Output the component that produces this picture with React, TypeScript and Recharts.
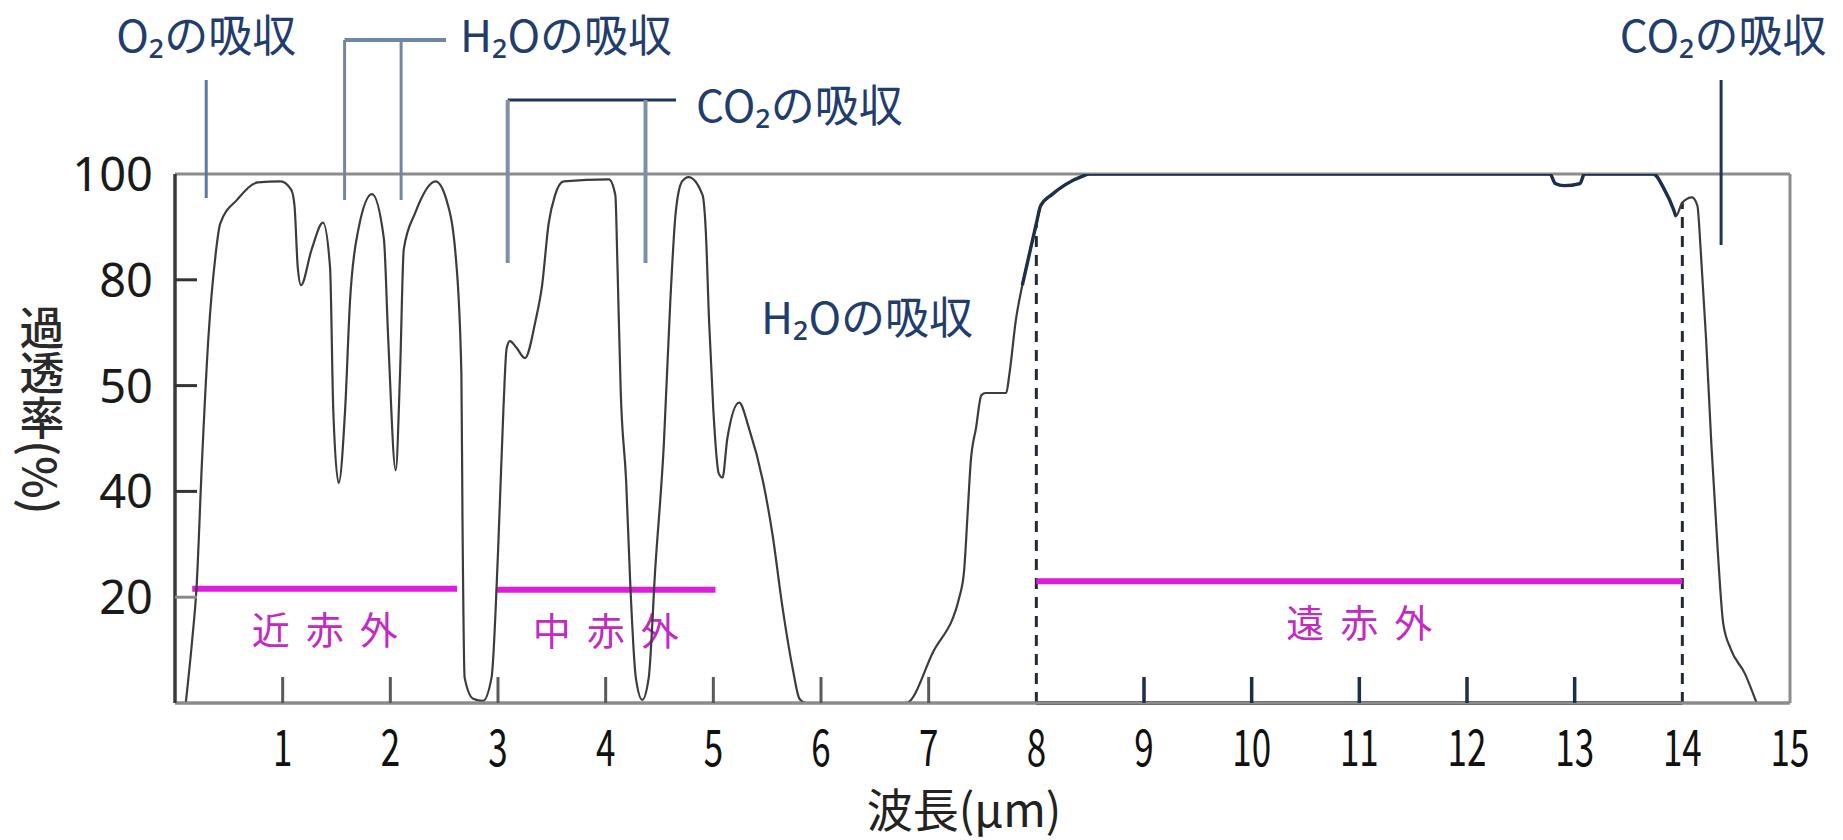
import React from "react";
import { LineChart, Line, XAxis, YAxis, ReferenceLine, ReferenceDot } from "recharts";

// 波長 (μm) と 透過率 (%)
const wavelength = [
  0.1, 0.16, 0.2, 0.25, 0.31, 0.375, 0.42, 0.58, 0.77, 0.98, 1.08, 1.11, 1.14, 1.17, 1.27, 1.375,
  1.44, 1.47, 1.52, 1.58, 1.625, 1.7, 1.83, 1.94, 1.98, 2.05, 2.09, 2.125, 2.23, 2.42, 2.52, 2.61,
  2.66, 2.67, 2.69, 2.77, 2.86, 2.94, 3.0, 3.05, 3.08, 3.11, 3.17, 3.25, 3.35, 3.41, 3.47, 3.53,
  3.61, 4.03, 4.09, 4.11, 4.14, 4.19, 4.23, 4.28, 4.34, 4.4, 4.46, 4.54, 4.6, 4.65, 4.71, 4.77,
  4.9, 4.93, 4.96, 5.0, 5.05, 5.085, 5.13, 5.24, 5.33, 5.46, 5.55, 5.64, 5.74, 5.8, 5.86, 6.79,
  7.04, 7.29, 7.33, 7.36, 7.39, 7.44, 7.49, 7.53, 7.72, 7.75, 7.81, 7.87, 7.93, 8.0, 8.04, 8.15,
  8.27, 8.43, 8.49, 12.77, 12.82, 12.9, 13.05, 13.09, 13.73, 13.83, 13.92, 13.94, 14.0, 14.09,
  14.14, 14.17, 14.22, 14.27, 14.33, 14.38, 14.45, 14.58, 14.69,
];
const transmittance = [
  0, 12, 21.8, 42.7, 63.5, 84.4, 90.6, 95.2, 98.4, 98.6, 97, 94, 82.4, 78.5, 85.8, 90.8,
  82.4, 47.7, 40.8, 47.7, 73.7, 89.2, 96.2, 87.8, 63.5, 42, 53.3, 85.8, 92.6, 98.6, 95.2, 83.8,
  53.3, 35.2, 4.8, 0.8, 0.4, 4.8, 28.4, 47.7, 60.5, 62.6, 60.8, 57.8, 68.6, 78.5, 90.6, 96,
  98.6, 99, 96, 82.4, 49.4, 41, 21.8, 4.8, 0.6, 4.8, 25.2, 44.4, 73.7, 92.6, 98.6, 99.4,
  96, 89.2, 68.6, 47.7, 41.7, 41.3, 45, 48.4, 46, 41, 31.8, 18.4, 6.2, 0.8, 0, 0,
  9.6, 20.4, 25.2, 35.2, 42.7, 46, 49.1, 49.3, 49.3, 53.3, 68.6, 78.5, 84.4, 90.6, 94, 96.2,
  98, 99.6, 100, 100, 98.2, 97.8, 98.2, 100, 100, 97.2, 93.2, 92, 94.6, 95.6,
  94, 85.8, 63.5, 44.4, 28.4, 15, 10.2, 5.6, 0,
];

const yTickValues = [20, 40, 50, 80, 100];
const xTickValues = [1, 2, 3, 4, 5, 6, 7, 8, 9, 10, 11, 12, 13, 14, 15];

const bandNames = ["近赤外", "中赤外", "遠赤外"];
const bandFrom = [0.16, 2.98, 8.0];
const bandTo = [2.62, 5.02, 14.0];
const bandLevel = [21.6, 21.4, 23];

const o2Lines = [0.29];
const h2oLines = [1.575, 2.1];
const co2Lines = [3.09, 4.37];
const co2FarLines = [14.36];
const farIrEdges = [8, 14];

// 縦軸は目盛が等間隔 (0, 20, 40, 50, 80, 100)
const yBreaks = [0, 20, 40, 50, 80, 100];
function toPos(v: number) {
  for (let i = 1; i < yBreaks.length; i++) {
    if (v <= yBreaks[i]) {
      return i - 1 + (v - yBreaks[i - 1]) / (yBreaks[i] - yBreaks[i - 1]);
    }
  }
  return yBreaks.length - 1;
}

function valueAt(x: number) {
  for (let i = 1; i < wavelength.length; i++) {
    if (x <= wavelength[i]) {
      const t = (x - wavelength[i - 1]) / (wavelength[i] - wavelength[i - 1]);
      return transmittance[i - 1] + t * (transmittance[i] - transmittance[i - 1]);
    }
  }
  return 0;
}

const W = 1843;
const H = 840;
const LEFT = 175;
const TOP = 174;
const RIGHT = 1790;
const BOTTOM = 703;
const pxToPos = (py: number) => ((BOTTOM - py) / (BOTTOM - TOP)) * 5;
const pxToX = (px: number) => ((px - LEFT) / (RIGHT - LEFT)) * 15;

const JP = '"Noto Sans CJK JP", "Noto Sans", sans-serif';
const NAVY = "#1f3d6d";
const MAGENTA = "#dc1edc";

const chartData = wavelength.map((x, i) => ({
  x,
  pos: toPos(transmittance[i]),
  far: x >= 7.87 && x <= 13.94 ? toPos(transmittance[i]) : null,
}));

function labelAt(text: string, fx: number, dx: number, dy: number, anchor: string, style: any) {
  return (props: any) => {
    const vb = props.viewBox || { x: 0, y: 0, width: 0 };
    return (
      <text
        x={vb.x + (vb.width || 0) * fx + dx}
        y={vb.y + dy}
        textAnchor={anchor}
        dominantBaseline="central"
        {...style}
      >
        {text}
      </text>
    );
  };
}

const noteStyle = { fontFamily: JP, fontSize: 44, fill: NAVY };
const bandStyle = { fontFamily: JP, fontSize: 38, fill: "#c22ac2", letterSpacing: 16 };

const XTick = (props: any) => {
  const { x, payload } = props;
  const y = BOTTOM;
  const v = payload.value;
  const navy = v > 8 && v < 14;
  return (
    <g>
      {v !== 8 && v !== 14 && v !== 15 && (
        <line x1={x} x2={x} y1={y} y2={y - 26} stroke={navy ? "#1c2e48" : "#5a5a5a"} strokeWidth={navy ? 3.5 : 3} />
      )}
      <text
        transform={`translate(${x},${y + 63}) scale(0.7,1)`}
        textAnchor="middle"
        fontFamily={JP}
        fontSize={50}
        fill="#111"
      >
        {v}
      </text>
    </g>
  );
};

const YTick = (props: any) => {
  const { y, payload } = props;
  const x = LEFT;
  const label = yTickValues[Math.round(payload.value) - 1];
  return (
    <g>
      {payload.value < 4.9 && (
        <line x1={x} x2={x + 22} y1={y} y2={y} stroke={payload.value < 1.5 ? "#8a8a8a" : "#333"} strokeWidth={3} />
      )}
      <text x={x - 22} y={y} dy="0.36em" textAnchor="end" fontFamily='"Noto Sans", sans-serif' fontSize={47} fill="#1a1a1a">
        {label}
      </text>
    </g>
  );
};

export default function App() {
  return (
    <div style={{ position: "absolute", left: 0, top: 0, width: W, height: H, background: "#fff" }}>
      <LineChart
        width={W}
        height={H}
        data={chartData}
        margin={{ top: TOP, right: W - RIGHT, bottom: H - BOTTOM - 2, left: LEFT - 2 }}
      >
        <XAxis
          type="number"
          dataKey="x"
          domain={[0, 15]}
          ticks={xTickValues}
          allowDataOverflow
          height={2}
          tickSize={0}
          tickMargin={0}
          tickLine={false}
          axisLine={{ stroke: "#8c8c8c", strokeWidth: 3 }}
          tick={<XTick />}
          interval={0}
        />
        <YAxis
          type="number"
          domain={[0, 5]}
          ticks={yTickValues.map((v) => toPos(v))}
          allowDataOverflow
          width={2}
          tickSize={0}
          tickMargin={0}
          tickLine={false}
          axisLine={{ stroke: "#3a3a3a", strokeWidth: 3 }}
          tick={<YTick />}
          interval={0}
        />

        {/* 枠 */}
        <ReferenceLine y={5} stroke="#8c8c8c" strokeWidth={3} />
        <ReferenceLine x={15} stroke="#8c8c8c" strokeWidth={3} />
        <ReferenceLine y={0} stroke="#8c8c8c" strokeWidth={3} />
        <ReferenceLine x={0} stroke="#3a3a3a" strokeWidth={3} />
        <ReferenceLine
          segment={[{ x: farIrEdges[0], y: 0 }, { x: farIrEdges[1], y: 0 }]}
          stroke="#1c2e48"
          strokeWidth={3.5}
        />

        {/* 遠赤外の境界 */}
        {farIrEdges.map((e) => (
          <ReferenceLine
            key={"edge" + e}
            segment={[{ x: e, y: 0 }, { x: e, y: toPos(valueAt(e)) }]}
            stroke="#222a38"
            strokeWidth={3}
            strokeDasharray="11 8"
          />
        ))}

        {/* 赤外の区分 */}
        {bandNames.map((name, i) => (
          <ReferenceLine
            key={name}
            segment={[{ x: bandFrom[i], y: toPos(bandLevel[i]) }, { x: bandTo[i], y: toPos(bandLevel[i]) }]}
            stroke={MAGENTA}
            strokeWidth={6}
            label={labelAt(name, 0.5, 8, 39, "middle", bandStyle)}
          />
        ))}

        {/* 吸収帯の注記 */}
        <ReferenceLine
          segment={[{ x: o2Lines[0], y: pxToPos(80) }, { x: o2Lines[0], y: pxToPos(198) }]}
          stroke="#5d7a9c"
          strokeWidth={3}
          ifOverflow="visible"
          label={labelAt("O₂の吸収", 0, 0, -47, "middle", noteStyle)}
        />
        <ReferenceLine
          segment={[{ x: h2oLines[0], y: pxToPos(40) }, { x: pxToX(446), y: pxToPos(40) }]}
          stroke="#6f87a4"
          strokeWidth={4}
          ifOverflow="visible"
          label={labelAt("H₂Oの吸収", 1, 14, -7, "start", noteStyle)}
        />
        {h2oLines.map((h) => (
          <ReferenceLine
            key={"h2o" + h}
            segment={[{ x: h, y: pxToPos(40) }, { x: h, y: pxToPos(200) }]}
            stroke="#6f87a4"
            strokeWidth={3}
            ifOverflow="visible"
          />
        ))}
        <ReferenceLine
          segment={[{ x: co2Lines[0], y: pxToPos(100) }, { x: pxToX(676), y: pxToPos(100) }]}
          stroke="#1f3556"
          strokeWidth={3}
          ifOverflow="visible"
          label={labelAt("CO₂の吸収", 1, 20, 3, "start", noteStyle)}
        />
        {co2Lines.map((c) => (
          <ReferenceLine
            key={"co2" + c}
            segment={[{ x: c, y: pxToPos(100) }, { x: c, y: pxToPos(263) }]}
            stroke="#7d90aa"
            strokeWidth={4}
            ifOverflow="visible"
          />
        ))}
        <ReferenceLine
          segment={[{ x: co2FarLines[0], y: pxToPos(80) }, { x: co2FarLines[0], y: pxToPos(245) }]}
          stroke="#1f3556"
          strokeWidth={3}
          ifOverflow="visible"
          label={labelAt("CO₂の吸収", 0, 2, -47, "middle", noteStyle)}
        />
        <ReferenceDot
          x={pxToX(867)}
          y={pxToPos(315)}
          r={0}
          stroke="none"
          fill="none"
          label={labelAt("H₂Oの吸収", 0, 0, 0, "middle", noteStyle)}
        />

        <Line
          type="monotone"
          dataKey="pos"
          stroke="#3c3c3c"
          strokeWidth={2.2}
          dot={false}
          isAnimationActive={false}
        />
        <Line
          type="monotone"
          dataKey="far"
          stroke="#1d2f4a"
          strokeWidth={3.4}
          dot={false}
          isAnimationActive={false}
        />
      </LineChart>

      <svg width={W} height={H} style={{ position: "absolute", left: 0, top: 0, pointerEvents: "none" }}>
        <text
          x={42}
          y={410}
          textAnchor="middle"
          fontFamily={JP}
          fontSize={45}
          fontWeight={500}
          fill="#2a2a2a"
          style={{ writingMode: "vertical-rl" as any }}
        >
          過透率(%)
        </text>
        <text x={964} y={827} textAnchor="middle" fontFamily={JP} fontSize={46} fill="#222">
          波長(μm)
        </text>
      </svg>
    </div>
  );
}
